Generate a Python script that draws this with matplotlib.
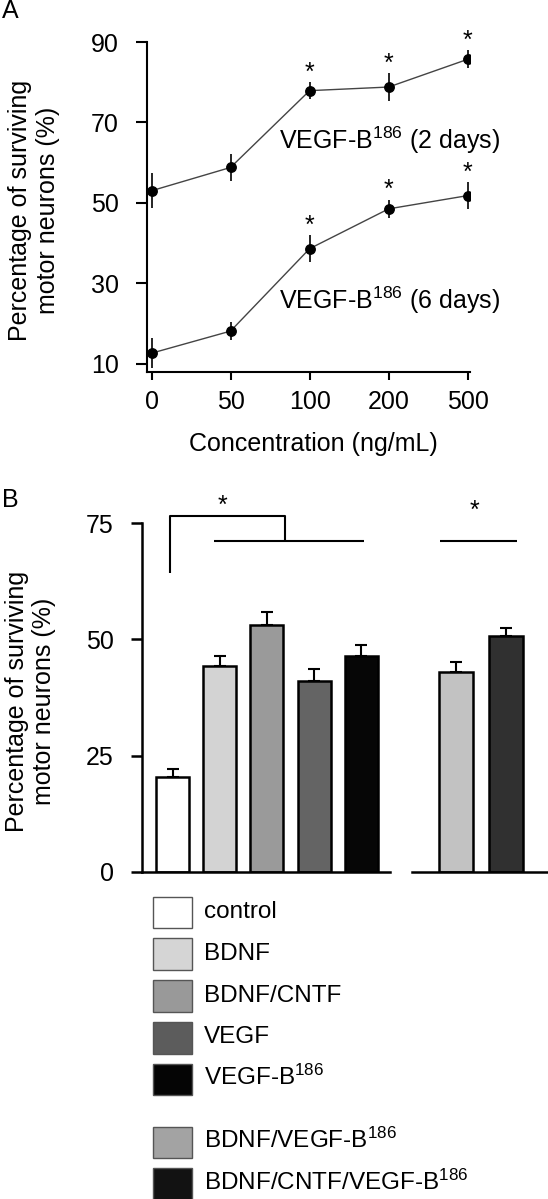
import matplotlib
matplotlib.use("Agg")
import matplotlib.pyplot as plt
from matplotlib.patches import Rectangle

plt.rcParams['font.family'] = ['Liberation Sans', 'DejaVu Sans']
plt.rcParams['mathtext.fontset'] = 'custom'
plt.rcParams['mathtext.rm'] = 'Liberation Sans'
plt.rcParams['mathtext.it'] = 'Liberation Sans:italic'
plt.rcParams['mathtext.bf'] = 'Liberation Sans:bold'

# ---------------- data ----------------
conc_labels = ['0', '50', '100', '200', '500']
surv_2d = [53.0, 58.8, 77.9, 78.8, 85.7]
err_2d = [4.4, 3.4, 2.1, 3.4, 2.2]
surv_6d = [12.6, 18.1, 38.6, 48.5, 51.8]
err_6d = [3.7, 2.2, 3.3, 2.2, 3.3]
sig_a = [False, False, True, True, True]
yticks_a = [10, 30, 50, 70, 90]

groups_left = ['control', 'BDNF', 'BDNF/CNTF', 'VEGF', 'VEGF-B$^{\\mathrm{186}}$']
vals_left = [20.3, 44.3, 53.0, 41.1, 46.3]
errs_left = [1.8, 2.0, 2.8, 2.6, 2.4]
cols_left = ['#ffffff', '#d3d3d3', '#9a9a9a', '#646464', '#060606']

groups_right = ['BDNF/VEGF-B$^{\\mathrm{186}}$', 'BDNF/CNTF/VEGF-B$^{\\mathrm{186}}$']
vals_right = [43.0, 50.7]
errs_right = [2.2, 1.8]
cols_right = ['#c2c2c2', '#303030']

legend_labels = groups_left + groups_right
legend_cols = ['#ffffff', '#d5d5d5', '#999999', '#5c5c5c', '#050505', '#a3a3a3', '#121212']
yticks_b = [0, 25, 50, 75]

# ---------------- figure ----------------
W, H = 548, 1199
fig = plt.figure(figsize=(W / 100, H / 100), dpi=100)
FS = 18


def ax_px(left, top, right, bottom, **kw):
    return fig.add_axes([left / W, 1 - bottom / H, (right - left) / W, (bottom - top) / H], **kw)


def ftext(x, y, s, **kw):
    return fig.text(x / W, 1 - y / H, s, **kw)


# ---------------- panel A ----------------
axA = ax_px(147, 42, 470, 371.7)
axA.set_facecolor('none')
xs = list(range(len(conc_labels)))
for vals, errs in [(surv_2d, err_2d), (surv_6d, err_6d)]:
    axA.plot(xs, vals, color='#444444', lw=1.0, zorder=2)
    axA.errorbar(xs, vals, yerr=errs, fmt='o', color='black', ms=6.8,
                 elinewidth=1.2, capsize=0, zorder=3)
    for x, v, e, s in zip(xs, vals, errs, sig_a):
        if s:
            axA.annotate('*', xy=(x, v + e), xytext=(0, 2), textcoords='offset points',
                         ha='center', va='baseline', fontsize=FS)
axA.text(1.613, 63.4, 'VEGF-B$^{\\mathrm{186}}$ (2 days)', fontsize=FS, ha='left', va='baseline')
axA.text(1.613, 23.5, 'VEGF-B$^{\\mathrm{186}}$ (6 days)', fontsize=FS, ha='left', va='baseline')

axA.set_xlim(-0.057, 4.029)
axA.set_ylim(8.0, 90)
axA.set_xticks(xs)
axA.set_xticklabels(conc_labels)
axA.set_yticks(yticks_a)
for sp in ['top', 'right']:
    axA.spines[sp].set_visible(False)
for sp in ['left', 'bottom']:
    axA.spines[sp].set_linewidth(1.5)
axA.tick_params(axis='y', length=8, width=1.5, pad=12.5, labelsize=FS)
axA.tick_params(axis='x', length=6, width=1.5, pad=7, labelsize=FS)
ftext(313.7, 451, 'Concentration (ng/mL)', fontsize=FS, ha='center', va='baseline')
ftext(34, 210, 'Percentage of surviving\nmotor neurons (%)', fontsize=FS, rotation=90,
      ha='center', va='center', multialignment='center')
ftext(1.7, 18.3, 'A', fontsize=FS, ha='left', va='baseline')

# ---------------- panel B ----------------
axB = ax_px(142, 523.1, 389.7, 871.7)
axB.set_facecolor('none')
xl = list(range(len(vals_left)))
axB.bar(xl, vals_left, width=0.7, color=cols_left, edgecolor='black', linewidth=1.8, zorder=2)
axB.errorbar(xl, vals_left, yerr=[[0] * len(xl), errs_left], fmt='none', ecolor='black',
             elinewidth=1.5, capsize=4.5, capthick=1.5, zorder=1)
axB.set_xlim(-0.646, 4.60)
axB.set_ylim(0, 75)
axB.set_yticks(yticks_b)
axB.set_xticks([])
for sp in ['top', 'right']:
    axB.spines[sp].set_visible(False)
for sp in ['left', 'bottom']:
    axB.spines[sp].set_linewidth(1.8)
axB.tick_params(axis='y', length=8, width=1.8, pad=12.5, labelsize=FS)

# significance bracket (left group)
bk = dict(color='black', lw=1.5, clip_on=False, solid_capstyle='butt')
axB.plot([-0.055, -0.055, 2.373, 2.373], [64.2, 76.5, 76.5, 71.2], **bk)
axB.plot([0.877, 4.047], [71.2, 71.2], **bk)
axB.text(1.049, 77.1, '*', fontsize=FS, ha='center', va='baseline', clip_on=False)

axC = ax_px(411.7, 523.1, 548, 871.7, sharey=axB)
axC.set_facecolor('none')
xr = list(range(len(vals_right)))
axC.bar(xr, vals_right, width=0.68, color=cols_right, edgecolor='black', linewidth=1.8, zorder=2)
axC.errorbar(xr, vals_right, yerr=[[0] * len(xr), errs_right], fmt='none', ecolor='black',
             elinewidth=1.5, capsize=4.5, capthick=1.5, zorder=1)
axC.set_xlim(-0.873, 1.837)
for sp in ['top', 'right', 'left']:
    axC.spines[sp].set_visible(False)
axC.spines['bottom'].set_linewidth(1.8)
axC.tick_params(left=False, labelleft=False, bottom=False, labelbottom=False)
axC.plot([-0.302, 1.213], [71.1, 71.1], **bk)
axC.text(0.372, 76.2, '*', fontsize=FS, ha='center', va='baseline', clip_on=False)

ftext(30.6, 701, 'Percentage of surviving\nmotor neurons (%)', fontsize=FS, rotation=90,
      ha='center', va='center', multialignment='center')
ftext(1.7, 506.7, 'B', fontsize=FS, ha='left', va='baseline')

# ---------------- legend ----------------
axL = ax_px(140, 885, 548, 1199)
axL.set_xlim(140, 548)
axL.set_ylim(1199, 885)
axL.axis('off')
slots = [0, 1, 2, 3, 4, 5.5, 6.5]
for lab, col, s in zip(legend_labels, legend_cols, slots):
    top = 896.7 + s * 41.8
    axL.add_patch(Rectangle((152.7, top), 39.6, 31.6, facecolor=col, edgecolor='#555555',
                            linewidth=1.0, clip_on=False))
    axL.text(204.3, top + 15.8 + 5.5, lab, fontsize=17.5, ha='left', va='baseline', clip_on=False)

fig.savefig('out.png', dpi=100)
